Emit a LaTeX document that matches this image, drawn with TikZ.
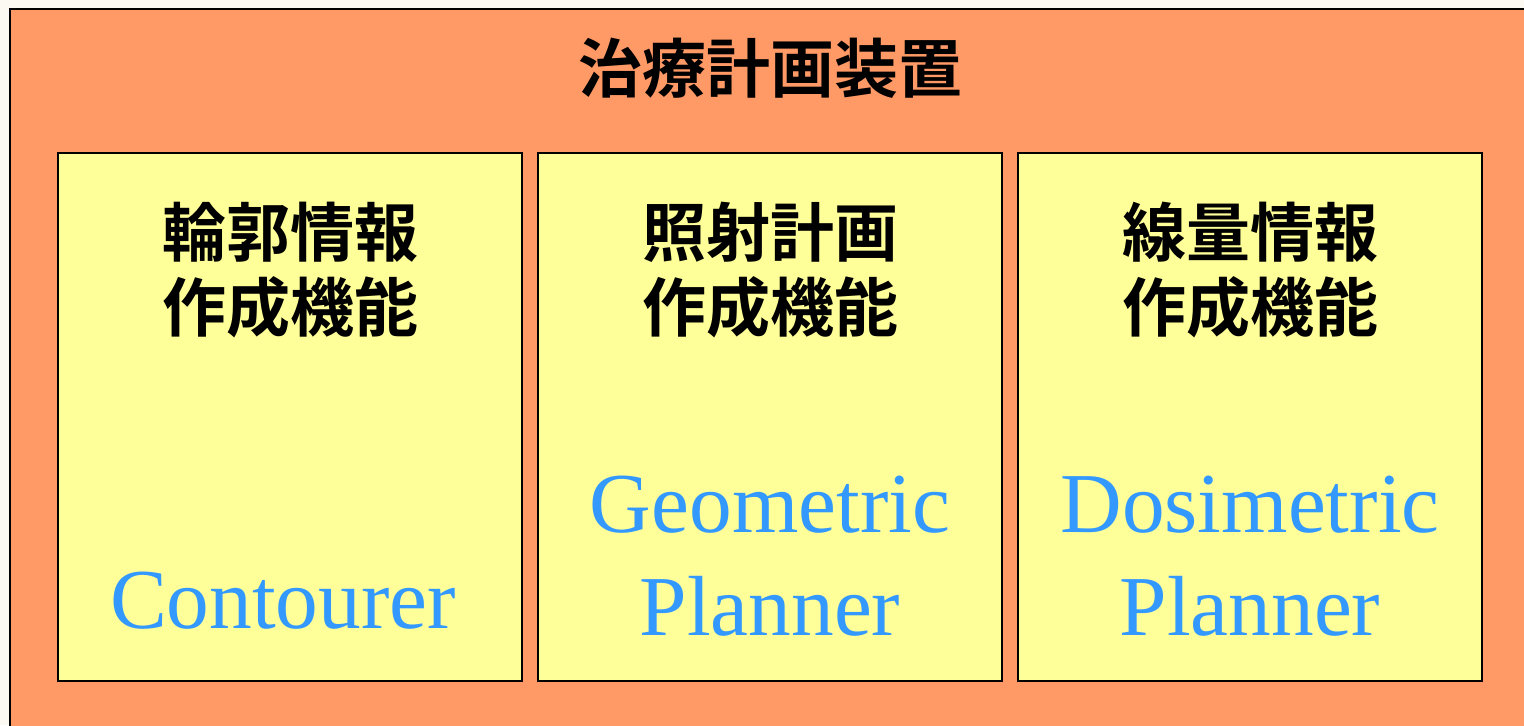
\documentclass[tikz,border=0pt]{standalone}
\usepackage{fontspec}
\setmainfont{Liberation Serif}
\newfontfamily\cjkfont{Noto Sans CJK JP}[BoldFont={* Bold}]
\usepackage{tikz}
\usetikzlibrary{positioning}

\definecolor{planorange}{HTML}{FF9966}
\definecolor{funcyellow}{HTML}{FFFF99}
\definecolor{nameblue}{HTML}{3399FF}
\definecolor{pagebg}{HTML}{FCF8F2}

\tikzset{
  funcbox/.style={draw=black,line width=1.5pt,fill=funcyellow},
  jptext/.style={font=\cjkfont\bfseries\fontsize{48}{56}\selectfont,text=black,inner sep=0pt},
  entext/.style={font=\fontsize{64}{77}\selectfont,text=nameblue,inner sep=0pt,anchor=base}
}

\begin{document}
\begin{tikzpicture}[x=0.75pt,y=-0.75pt]
  \useasboundingbox (0,0) rectangle (1524,725);
  \fill[pagebg] (0,0) rectangle (1524,725);
  % outer device
  \begin{scope}
    \clip (0,0) rectangle (1524,725);
    \draw[fill=planorange,line width=2.2pt] (10,9) rectangle (1560,760);
  \end{scope}
  \node[jptext] (title) at (770,68) {治療計画装置};

  % three functions
  \draw[funcbox] (58,153) rectangle (522,681);
  \draw[funcbox] (538,153) rectangle (1002,681);
  \draw[funcbox] (1018,153) rectangle (1482,681);

  \node[jptext] (cont1) at (290,232) {輪郭情報};
  \node[jptext] (cont2) at (290,307) {作成機能};
  \node[entext] (cont3) at (283,628) {Contourer};

  \node[jptext] (geom1) at (770,232) {照射計画};
  \node[jptext] (geom2) at (770,307) {作成機能};
  \node[entext] (geom3) at (770,532) {Geometric};
  \node[entext] (geom4) at (770,635) {Planner};

  \node[jptext] (dose1) at (1250,232) {線量情報};
  \node[jptext] (dose2) at (1250,307) {作成機能};
  \node[entext] (dose3) at (1250,532) {Dosimetric};
  \node[entext] (dose4) at (1250,635) {Planner};
\end{tikzpicture}
\end{document}
